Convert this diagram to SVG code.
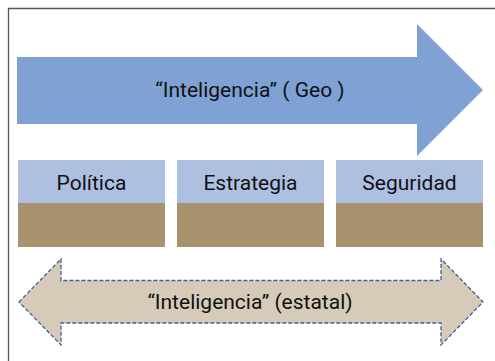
<svg xmlns="http://www.w3.org/2000/svg" width="495" height="361" viewBox="0 0 495 361">
<style>
.t{font-family:Roboto,"Noto Sans",sans-serif;font-size:21px;fill:#111;text-anchor:middle}
.top{fill:#AEC0E2}
.bot{fill:#A8936E}
</style>
<rect x="0" y="0" width="495" height="361" fill="#fff"/>
<path d="M8.5 361 V8.5 H495" fill="none" stroke="#555" stroke-width="1.3"/>
<g id="arrow-geo">
<polygon points="17,57 417,57 417,24 483,90 417,156 417,124 17,124" fill="#7FA1D3"/>
<text class="t" x="250" y="97">“Inteligencia” ( Geo )</text>
</g>
<g id="node-politica">
<rect class="top" x="18" y="160" width="147" height="43"/>
<rect class="bot" x="18" y="203" width="147" height="44"/>
<text class="t" x="91.5" y="190">Política</text>
</g>
<g id="node-estrategia">
<rect class="top" x="177" y="160" width="147" height="43"/>
<rect class="bot" x="177" y="203" width="147" height="44"/>
<text class="t" x="250.5" y="190">Estrategia</text>
</g>
<g id="node-seguridad">
<rect class="top" x="336" y="160" width="147" height="43"/>
<rect class="bot" x="336" y="203" width="147" height="44"/>
<text class="t" x="409.5" y="190">Seguridad</text>
</g>
<g id="arrow-estatal">
<polygon points="19,302 61,259 61,280.5 441,280.5 441,259 483,302 441,345 441,323 61,323 61,345" fill="#D5CBB8" stroke="#3F5F9A" stroke-width="1.3" stroke-dasharray="4,2"/>
<text class="t" x="250" y="309">“Inteligencia” (estatal)</text>
</g>
</svg>
